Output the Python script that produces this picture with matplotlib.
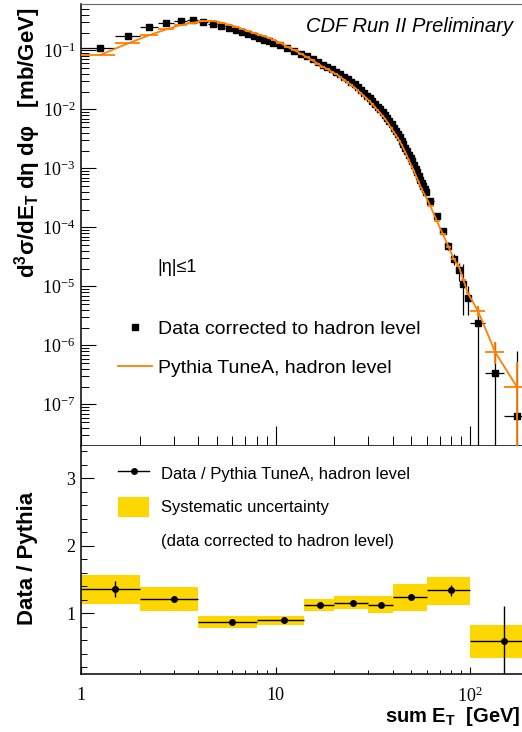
import numpy as np
import matplotlib
matplotlib.use("Agg")
import matplotlib.pyplot as plt
from matplotlib.lines import Line2D
from matplotlib.patches import Patch
from matplotlib.ticker import (FixedLocator, FixedFormatter, NullFormatter,
                               LogLocator, LogFormatterMathtext, MultipleLocator)

plt.rcParams['font.family'] = ['Liberation Sans', 'DejaVu Sans']

# sum ET bins: centre and half width [GeV]
et_centre = [1.25, 1.75, 2.25, 2.75, 3.25, 3.75, 4.25, 4.75, 5.25, 5.75,
             6.25, 6.75, 7.25, 7.75, 8.25, 8.75, 9.25, 9.75,
             10.5, 11.5, 12.5, 13.5, 14.5, 15.5, 16.5, 17.5, 18.5, 19.5,
             20.5, 21.5, 22.5, 23.5, 24.5, 25.5, 26.5, 27.5, 28.5, 29.5,
             30.5, 31.5, 32.5, 33.5, 34.5, 35.5, 36.5, 37.5, 38.5, 39.5,
             40.5, 41.5, 42.5, 43.5, 44.5, 45.5, 46.5, 47.5, 48.5, 49.5,
             50.5, 51.5, 52.5, 53.5, 54.5, 55.5, 56.5, 57.5, 58.5, 59.5,
             62.5, 67.5, 72.5, 77.5, 82.5, 87.5, 92.5, 97.5,
             110, 135, 175]
et_halfwidth = [0.25] * 18 + [0.5] * 50 + [2.5] * 8 + [10, 15, 25]

# d3sigma/dET deta dphi [mb/GeV], data corrected to hadron level
data_xsec = [0.108, 0.175, 0.245, 0.287, 0.310, 0.327, 0.302, 0.279, 0.258, 0.239,
             0.221, 0.204, 0.187, 0.176, 0.163, 0.151, 0.142, 0.135,
             0.122, 0.110, 0.0981, 0.0879, 0.0794, 0.0718, 0.0646, 0.0574, 0.0523, 0.0477,
             0.0437, 0.0396, 0.0357, 0.0322, 0.0293, 0.0264, 0.0236, 0.0211, 0.0190, 0.0171,
             0.0154, 0.01386, 0.01239, 0.01111, 0.00998, 0.00899, 0.00813, 0.00723, 0.00634, 0.00556,
             0.00489, 0.00431, 0.00381, 0.00336, 0.00295, 0.00258, 0.00225, 0.00196, 0.00171, 0.00150,
             0.00132, 0.00115, 0.000986, 0.000852, 0.000740, 0.000645, 0.000562, 0.000494, 0.000440, 0.000392,
             2.82e-4, 1.57e-4, 8.63e-5, 4.92e-5, 2.94e-5, 1.87e-5, 1.08e-5, 6.28e-6,
             2.36e-6, 3.44e-7, 6.4e-8]
data_err_up = [0] * 68 + [1.4e-5, 1.3e-5, 8.6e-6, 7.4e-6, 5.9e-6, 6.5e-6, 1.3e-5, 4.0e-6,
                          2.1e-6, 8.1e-7, 7.4e-7]
data_err_dn = [0] * 68 + [1.4e-5, 1.3e-5, 8.6e-6, 7.4e-6, 5.9e-6, 6.5e-6, 7.5e-6, 3.0e-6,
                          2.36e-6, 3.44e-7, 6.4e-8]

# Pythia Tune A, hadron level
mc_xsec = [0.0832, 0.1314, 0.1816, 0.2270, 0.2684, 0.2936, 0.3138, 0.3162, 0.2959, 0.2726,
           0.2522, 0.2305, 0.2108, 0.1956, 0.1831, 0.1720, 0.1623, 0.1500,
           0.1356, 0.1146, 0.1004, 0.0879, 0.0764, 0.0677, 0.0597, 0.0527, 0.0480, 0.0432,
           0.0395, 0.0357, 0.0319, 0.0287, 0.0261, 0.0234, 0.0210, 0.0188, 0.0169, 0.0152,
           0.01368, 0.01224, 0.01084, 0.00968, 0.00871, 0.00781, 0.00699, 0.00618, 0.00542, 0.00475,
           0.00418, 0.00368, 0.00326, 0.00287, 0.00252, 0.00219, 0.00187, 0.00160, 0.00137, 0.00119,
           0.00104, 0.000906, 0.000780, 0.000675, 0.000586, 0.000510, 0.000445, 0.000395, 0.000358, 0.000323,
           2.32e-4, 1.29e-4, 7.70e-5, 4.73e-5, 2.90e-5, 2.21e-5, 1.28e-5, 7.70e-6,
           3.81e-6, 7.61e-7, 1.94e-7]
mc_err_up = [0] * 76 + [0.8e-6, 3.8e-7, 3.3e-7]
mc_err_dn = [0] * 76 + [0.8e-6, 2.7e-7, 1.94e-7]

# ratio data / pythia in wide bins
ratio_lo = [1, 2, 4, 8, 14, 20, 30, 40, 60, 100]
ratio_hi = [2, 4, 8, 14, 20, 30, 40, 60, 100, 200]
ratio_x = [1.5, 3, 6, 11, 17, 25, 35, 50, 80, 150]
ratio = [1.36, 1.21, 0.87, 0.90, 1.13, 1.16, 1.13, 1.24, 1.34, 0.585]
ratio_stat = [0.12, 0.02, 0.01, 0.01, 0.01, 0.01, 0.01, 0.01, 0.08, 0.525]
sys_low = [1.14, 1.04, 0.79, 0.83, 1.04, 1.07, 1.01, 1.04, 1.13, 0.34]
sys_high = [1.57, 1.39, 0.96, 0.96, 1.21, 1.26, 1.26, 1.44, 1.54, 0.83]

orange = '#ff7f00'
gold = '#ffd700'

W, H = 522, 732
fig = plt.figure(figsize=(W / 100, H / 100), dpi=100)
x0 = 81
xw = 194.5 * np.log10(200)
ax1 = fig.add_axes([x0 / W, 1 - 445.7 / H, xw / W, (445.7 - 4) / H])
ax2 = fig.add_axes([x0 / W, 1 - 673.5 / H, xw / W, (673.5 - 445.7) / H])

# upper panel: spectrum
ax1.errorbar(et_centre, data_xsec, xerr=et_halfwidth, yerr=[data_err_dn, data_err_up],
             fmt='s', color='k', ms=4.3, elinewidth=0.9, capsize=0, zorder=3)
ax1.plot(et_centre, mc_xsec, color=orange, lw=1.3, zorder=4)
ax1.errorbar(et_centre, mc_xsec, xerr=et_halfwidth, yerr=[mc_err_dn, mc_err_up],
             fmt='none', ecolor=orange, elinewidth=1.3, capsize=0, zorder=4)

ax1.set_xscale('log')
ax1.set_yscale('log')
ax1.set_xlim(1, 200)
ax1.set_ylim(2.0e-8, 0.61)
ax1.xaxis.set_major_locator(FixedLocator([1, 10, 100]))
ax1.xaxis.set_minor_locator(LogLocator(base=10, subs=np.arange(2, 10)))
ax1.yaxis.set_major_locator(FixedLocator(10.0 ** np.arange(-7, 0)))
ax1.yaxis.set_minor_locator(LogLocator(base=10, subs=np.arange(2, 10), numticks=20))
ax1.yaxis.set_major_formatter(LogFormatterMathtext())
ax1.yaxis.set_minor_formatter(NullFormatter())
ax1.tick_params(axis='y', which='major', direction='in', length=10.8, width=0.8,
                labelsize=13, labelfontfamily='Liberation Serif', pad=4)
ax1.tick_params(axis='y', which='minor', direction='in', length=5.8, width=0.7)
ax1.tick_params(axis='x', which='major', direction='in', length=14.4, width=0.8)
ax1.tick_params(axis='x', which='minor', direction='in', length=7.2, width=0.7)
ax1.tick_params(axis='x', which='both', labelbottom=False)
ax1.spines['right'].set_visible(False)
ax1.spines['top'].set_color('#666666')
ax1.spines['left'].set_linewidth(1.1)
ax1.spines['bottom'].set_linewidth(1.1)

h_data = Line2D([], [], marker='s', ls='none', color='k', ms=4.5)
h_mc = Line2D([], [], color=orange, lw=1.3)
ax1.legend([h_data, h_mc], ['Data corrected to hadron level', 'Pythia TuneA, hadron level'],
           loc='upper left', bbox_to_anchor=(118 / W, 1 - 320 / H),
           bbox_transform=fig.transFigure, frameon=False, fontsize=14,
           handlelength=1.75, handletextpad=0.3, labelspacing=1.1,
           borderpad=0, borderaxespad=0)

fig.text(513 / W, 1 - 26.7 / H, 'CDF Run II Preliminary', ha='right', va='center',
         fontsize=14.5, style='italic')
fig.text(177 / W, 1 - 267 / H, '|η|≤1', ha='center', va='center', fontsize=13)

# lower panel: ratio
ax2.bar(ratio_lo, np.subtract(sys_high, sys_low), width=np.subtract(ratio_hi, ratio_lo),
        bottom=sys_low, align='edge', color=gold, lw=0, zorder=1)
ax2.errorbar(ratio_x, ratio, xerr=[np.subtract(ratio_x, ratio_lo), np.subtract(ratio_hi, ratio_x)],
             yerr=ratio_stat, fmt='o', color='k', ms=4, elinewidth=1, capsize=0, zorder=3)
ax2.set_xscale('log')
ax2.set_xlim(1, 200)
ax2.set_ylim(0.11, 3.48)
ax2.xaxis.set_major_locator(FixedLocator([1, 10, 100]))
ax2.xaxis.set_major_formatter(FixedFormatter(['1', '10', r'$\mathdefault{10^{2}}$']))
ax2.xaxis.set_minor_locator(LogLocator(base=10, subs=np.arange(2, 10)))
ax2.xaxis.set_minor_formatter(NullFormatter())
ax2.yaxis.set_major_locator(MultipleLocator(1))
ax2.yaxis.set_minor_locator(MultipleLocator(0.2))
ax2.tick_params(axis='y', which='major', direction='in', length=9, width=0.8,
                labelsize=13, labelfontfamily='Liberation Serif', pad=4)
ax2.tick_params(axis='y', which='minor', direction='in', length=4.3, width=0.7)
ax2.tick_params(axis='x', which='major', direction='in', length=5, width=0.8,
                labelsize=13, labelfontfamily='Liberation Serif', pad=9.5)
ax2.tick_params(axis='x', which='minor', direction='in', length=2.9, width=0.7)
ax2.spines['right'].set_visible(False)
ax2.spines['top'].set_visible(False)
ax2.spines['left'].set_linewidth(1.1)
ax2.spines['bottom'].set_linewidth(1.1)

h_ratio = Line2D([], [], marker='o', color='k', ms=4, lw=1)
h_sys = Patch(facecolor=gold, edgecolor='none')
h_blank = Line2D([], [], ls='none')
ax2.legend([h_ratio, h_sys, h_blank],
           ['Data / Pythia TuneA, hadron level', 'Systematic uncertainty',
            '(data corrected to hadron level)'],
           loc='upper left', bbox_to_anchor=(117.7 / W, 1 - 463 / H),
           bbox_transform=fig.transFigure, frameon=False, fontsize=12,
           handlelength=1.9, handleheight=1.5, handletextpad=0.7, labelspacing=0.8,
           borderpad=0, borderaxespad=0)

# axis titles
fig.text(28 / W, 1 - 8 / H, r'd$^\mathregular{3}$σ/dE$_\mathregular{T}$ dη dφ   [mb/GeV]',
         rotation=90, ha='center', va='top', fontsize=16, weight='bold')
fig.text(28 / W, 1 - 558 / H, 'Data / Pythia', rotation=90, ha='center', va='center',
         fontsize=16, weight='bold')
fig.text(521 / W, 1 - 728 / H, r'sum E$_\mathregular{T}$  [GeV]', ha='right', va='bottom',
         fontsize=14.5, weight='bold')

fig.savefig('out.png', dpi=100)
